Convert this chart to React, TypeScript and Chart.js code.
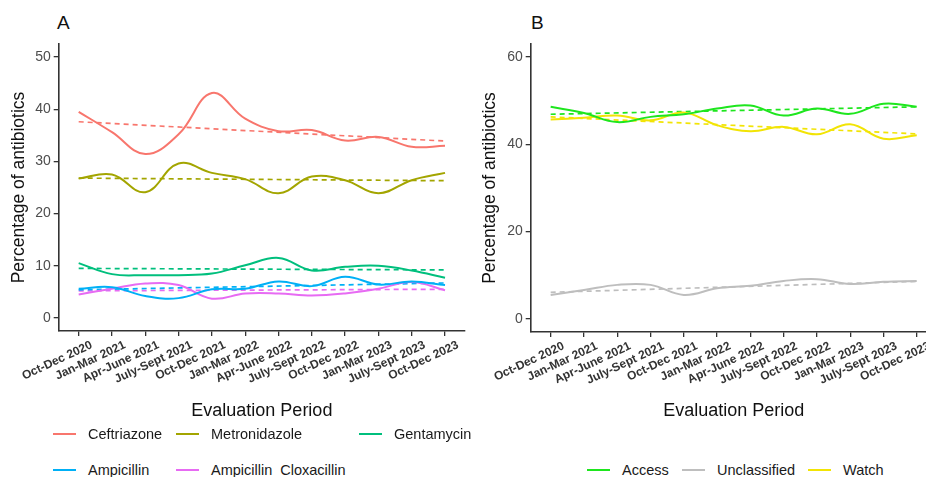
import React, { useEffect, useRef } from "react";
import { Chart, registerables } from "chart.js";
Chart.register(...registerables);

const FONT = "'Liberation Sans', Arial, sans-serif";

const periods = [
  "Oct-Dec 2020", "Jan-Mar 2021", "Apr-June 2021", "July-Sept 2021",
  "Oct-Dec 2021", "Jan-Mar 2022", "Apr-June 2022", "July-Sept 2022",
  "Oct-Dec 2022", "Jan-Mar 2023", "July-Sept 2023", "Oct-Dec 2023",
];

// Panel A (antibiotics)
const ceftriazone = [39.5, 35.6, 31.4, 35.2, 43.1, 38.2, 35.8, 36.0, 34.0, 34.7, 32.8, 33.0];
const metronidazole = [26.7, 27.5, 24.1, 29.6, 27.8, 26.6, 23.9, 27.1, 26.4, 23.9, 26.4, 27.8];
const gentamycin = [10.5, 8.4, 8.2, 8.2, 8.5, 10.1, 11.5, 9.1, 9.8, 10.0, 9.1, 7.7];
const ampicillin = [5.6, 5.9, 4.2, 3.8, 5.5, 5.6, 7.0, 6.1, 7.9, 6.4, 7.0, 6.3];
const ampicillinCloxacillin = [4.5, 5.6, 6.6, 6.3, 3.7, 4.7, 4.7, 4.3, 4.7, 5.6, 6.9, 5.3];

// trend lines: [start, end]
const ceftriazoneTrend = [37.6, 33.9];
const metronidazoleTrend = [26.8, 26.3];
const gentamycinTrend = [9.5, 9.2];
const ampicillinTrend = [5.4, 6.7];
const ampicillinCloxacillinTrend = [5.2, 5.5];

// Panel B (AWaRe)
const access = [48.6, 47.2, 45.1, 46.3, 46.9, 48.2, 48.9, 46.6, 48.2, 47.0, 49.3, 48.6];
const unclassified = [5.5, 6.6, 7.8, 7.8, 5.5, 7.0, 7.6, 8.7, 9.1, 8.0, 8.5, 8.7];
const watch = [45.7, 46.1, 46.6, 45.5, 47.3, 44.4, 43.0, 44.0, 42.3, 44.6, 41.3, 42.1];

const accessTrend = [46.9, 48.6];
const unclassifiedTrend = [6.1, 8.6];
const watchTrend = [46.3, 42.4];

const yTicksA = [0, 10, 20, 30, 40, 50];
const yTicksB = [0, 20, 40, 60];

const colorsA = {
  Ceftriazone: "#F8766D",
  Metronidazole: "#A3A500",
  Gentamycin: "#00BF7D",
  Ampicillin: "#00B0F6",
  Ampicillin_Cloxacillin: "#E76BF3",
};
const colorsB = {
  Access: "#1EE61E",
  Unclassified: "#BEBEBE",
  Watch: "#F2E405",
};

function toPts(vals: number[]) {
  return vals.map((v, i) => ({ x: i, y: v }));
}
function trendPts(t: number[]) {
  return [{ x: 0, y: t[0] }, { x: periods.length - 1, y: t[1] }];
}

function solid(label: string, vals: number[], color: string) {
  return {
    label,
    data: toPts(vals),
    borderColor: color,
    backgroundColor: color,
    borderWidth: 2,
    pointRadius: 0,
    tension: 0.4,
    fill: false,
  };
}
function dashed(label: string, t: number[], color: string) {
  return {
    label,
    data: trendPts(t),
    borderColor: color,
    backgroundColor: color,
    borderWidth: 1.7,
    borderDash: [5, 4],
    pointRadius: 0,
    tension: 0,
    fill: false,
  };
}

type PanelProps = {
  left: number;
  width: number;
  height: number;
  chartLeft: number;
  chartRight: number;
  chartTop: number;
  chartBottom: number;
  yMin: number;
  yMax: number;
  yTicks: number[];
  yTitlePad: number;
  datasets: any[];
};

function Panel(p: PanelProps) {
  const ref = useRef<HTMLCanvasElement | null>(null);
  useEffect(() => {
    if (!ref.current) return;
    const chart = new Chart(ref.current, {
      type: "line",
      data: { datasets: p.datasets },
      options: {
        animation: false,
        responsive: false,
        maintainAspectRatio: false,
        layout: {
          padding: { left: 0, top: p.chartTop, right: p.width - p.chartRight, bottom: 0 },
        },
        plugins: { legend: { display: false }, tooltip: { enabled: false } },
        scales: {
          x: {
            type: "linear",
            min: -0.6,
            max: periods.length - 1 + 0.6,
            afterBuildTicks: (s: any) => {
              s.ticks = periods.map((_, i) => ({ value: i }));
            },
            afterFit: (s: any) => {
              s.height = p.height - p.chartBottom;
              s.paddingLeft = 0;
              s.paddingRight = 0;
            },
            ticks: {
              autoSkip: false,
              minRotation: 25,
              maxRotation: 25,
              labelOffset: 13,
              padding: 2,
              color: "#333333",
              font: { family: FONT, size: 12, weight: "bold" },
              callback: (_v: any, i: number) => periods[i],
            },
            grid: { drawOnChartArea: false, tickLength: 5, color: "#333333", lineWidth: 1.3 },
            border: { color: "#333333", width: 1.6 },
            title: {
              display: true,
              text: "Evaluation Period",
              color: "#111111",
              font: { family: FONT, size: 18 },
              padding: { top: 0, bottom: 8.5 },
            },
          },
          y: {
            type: "linear",
            min: p.yMin,
            max: p.yMax,
            afterBuildTicks: (s: any) => {
              s.ticks = p.yTicks.map((v) => ({ value: v }));
            },
            afterFit: (s: any) => {
              s.width = p.chartLeft;
              s.paddingTop = 0;
              s.paddingBottom = 0;
            },
            ticks: {
              padding: 3,
              color: "#4D4D4D",
              font: { family: FONT, size: 14 },
              callback: (v: any) => String(v),
            },
            grid: { drawOnChartArea: false, tickLength: 5, color: "#333333", lineWidth: 1.3 },
            border: { color: "#333333", width: 1.6 },
            title: {
              display: true,
              text: "Percentage of antibiotics",
              color: "#111111",
              font: { family: FONT, size: 17.5 },
              padding: { top: p.yTitlePad, bottom: 0 },
            },
          },
        },
      } as any,
    });
    return () => chart.destroy();
  }, []);
  return (
    <canvas
      ref={ref}
      width={p.width}
      height={p.height}
      style={{ position: "absolute", left: p.left, top: 0, width: p.width, height: p.height }}
    />
  );
}

function LegendItem({ x, y, color, label }: { x: number; y: number; color: string; label: string }) {
  return (
    <>
      <div
        style={{
          position: "absolute",
          left: Math.round(x),
          top: Math.round(y) - 1,
          width: 23,
          height: 2,
          background: color,
        }}
      />
      <div
        style={{
          position: "absolute",
          left: Math.round(x + 35),
          top: Math.round(y) - 10,
          height: 20,
          fontFamily: FONT,
          fontSize: 14.5,
          lineHeight: "20px",
          color: "#1a1a1a",
          whiteSpace: "nowrap",
        }}
      >
        {label}
      </div>
    </>
  );
}

export default function App() {
  const dsA = [
    solid("Ceftriazone", ceftriazone, colorsA.Ceftriazone),
    solid("Metronidazole", metronidazole, colorsA.Metronidazole),
    solid("Gentamycin", gentamycin, colorsA.Gentamycin),
    solid("Ampicillin", ampicillin, colorsA.Ampicillin),
    solid("Ampicillin_Cloxacillin", ampicillinCloxacillin, colorsA.Ampicillin_Cloxacillin),
    dashed("Ceftriazone trend", ceftriazoneTrend, colorsA.Ceftriazone),
    dashed("Metronidazole trend", metronidazoleTrend, colorsA.Metronidazole),
    dashed("Gentamycin trend", gentamycinTrend, colorsA.Gentamycin),
    dashed("Ampicillin trend", ampicillinTrend, colorsA.Ampicillin),
    dashed("Ampicillin_Cloxacillin trend", ampicillinCloxacillinTrend, colorsA.Ampicillin_Cloxacillin),
  ];
  const dsB = [
    solid("Access", access, colorsB.Access),
    solid("Unclassified", unclassified, colorsB.Unclassified),
    solid("Watch", watch, colorsB.Watch),
    dashed("Access trend", accessTrend, colorsB.Access),
    dashed("Unclassified trend", unclassifiedTrend, colorsB.Unclassified),
    dashed("Watch trend", watchTrend, colorsB.Watch),
  ];
  return (
    <div
      style={{
        position: "fixed",
        left: 0,
        top: 0,
        width: 926,
        height: 477,
        overflow: "hidden",
        background: "#ffffff",
      }}
    >
      <div style={{ position: "absolute", left: 57, top: 13, fontFamily: FONT, fontSize: 19, lineHeight: 1, color: "#111" }}>A</div>
      <div style={{ position: "absolute", left: 531, top: 13, fontFamily: FONT, fontSize: 19, lineHeight: 1, color: "#111" }}>B</div>
      <Panel
        left={0}
        width={470}
        height={430}
        chartLeft={58.7}
        chartRight={465}
        chartTop={44}
        chartBottom={331}
        yMin={-2.5}
        yMax={52.5}
        yTicks={yTicksA}
        yTitlePad={8.5}
        datasets={dsA}
      />
      <Panel
        left={470}
        width={472}
        height={430}
        chartLeft={60.7}
        chartRight={466.7}
        chartTop={44}
        chartBottom={332}
        yMin={-3}
        yMax={63}
        yTicks={yTicksB}
        yTitlePad={9.5}
        datasets={dsB}
      />
      <LegendItem x={53} y={433.5} color={colorsA.Ceftriazone} label="Ceftriazone" />
      <LegendItem x={175.5} y={433.5} color={colorsA.Metronidazole} label="Metronidazole" />
      <LegendItem x={359} y={433.5} color={colorsA.Gentamycin} label="Gentamycin" />
      <LegendItem x={53} y={469.5} color={colorsA.Ampicillin} label="Ampicillin" />
      <LegendItem x={175.5} y={469.5} color={colorsA.Ampicillin_Cloxacillin} label="Ampicillin_Cloxacillin" />
      <LegendItem x={587} y={469.5} color={colorsB.Access} label="Access" />
      <LegendItem x={681.5} y={469.5} color={colorsB.Unclassified} label="Unclassified" />
      <LegendItem x={808} y={469.5} color={colorsB.Watch} label="Watch" />
    </div>
  );
}
